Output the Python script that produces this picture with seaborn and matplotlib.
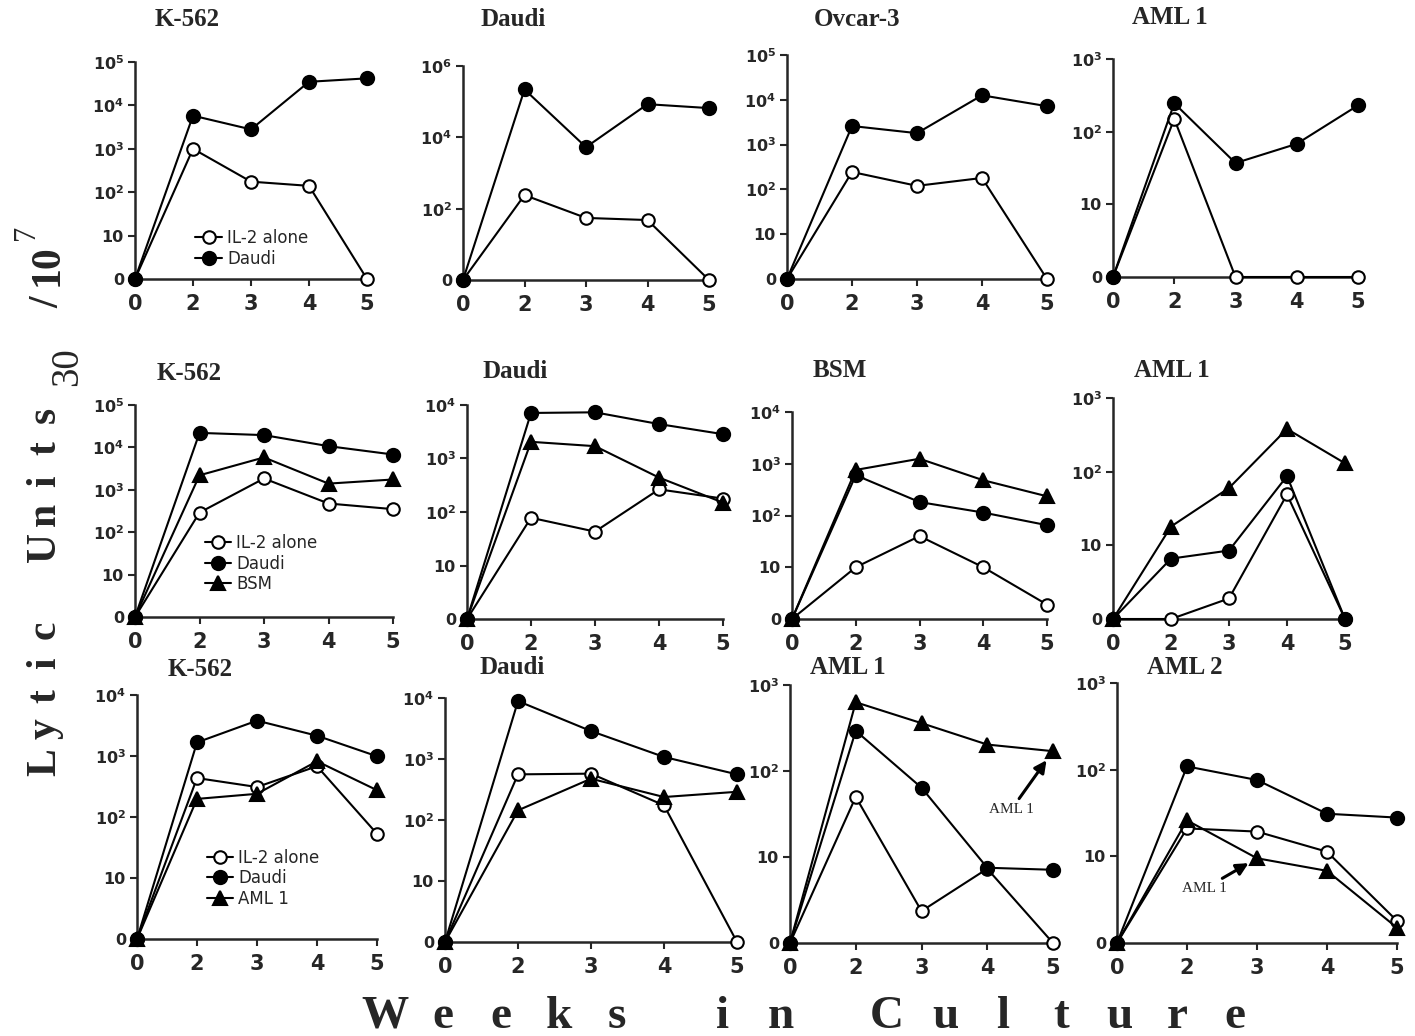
import numpy as np
import matplotlib
matplotlib.use("Agg")
import matplotlib.pyplot as plt
import seaborn as sns
from matplotlib.ticker import NullLocator

sns.set_style("ticks")
plt.rcParams["font.family"] = ["DejaVu Sans"]

W, H = 1415, 1036
weeks = [0, 2, 3, 4, 5]

# lytic units (LU30 / 10^7), 0 = below detection
row1_titles = ["K-562", "Daudi", "Ovcar-3", "AML 1"]
row1_il2 = [[0, 1000, 175, 140, 0],
            [0, 240, 55, 48, 0],
            [0, 245, 120, 180, 0],
            [0, 150, 0, 0, 0]]
row1_daudi = [[0, 5800, 2800, 35000, 42000],
              [0, 220000, 5300, 85000, 66000],
              [0, 2600, 1800, 12600, 7200],
              [0, 246, 37, 68, 230]]

row2_titles = ["K-562", "Daudi", "BSM", "AML 1"]
row2_il2 = [[0, 290, 1850, 475, 350],
            [0, 78, 43, 265, 178],
            [0, 10, 40, 10, 1.9],
            [0, 0, 1.9, 49, 0]]
row2_daudi = [[0, 22000, 19500, 10700, 6800],
              [0, 7100, 7300, 4400, 2850],
              [0, 600, 182, 114, 65],
              [0, 6.6, 8.5, 87, 0]]
row2_bsm = [[0, 2200, 5800, 1400, 1750],
            [0, 2050, 1700, 440, 150],
            [0, 760, 1250, 480, 235],
            [0, 18, 60, 380, 130]]

row3_titles = ["K-562", "Daudi", "AML 1", "AML 2"]
row3_il2 = [[0, 435, 310, 680, 53],
            [0, 560, 575, 174, 0],
            [0, 50, 2.35, 7.3, 0],
            [0, 21, 19.3, 11.3, 1.8]]
row3_daudi = [[0, 1670, 3800, 2150, 990],
              [0, 8900, 2870, 1080, 560],
              [0, 293, 64, 7.5, 7.1],
              [0, 109, 76, 31, 28]]
row3_aml1 = [[0, 198, 240, 820, 275],
             [0, 144, 475, 238, 290],
             [0, 630, 360, 203, 170],
             [0, 26, 9.5, 6.8, 1.5]]

# top decade of each y axis and labelled decade step
y_top = [[5, 6, 5, 3], [5, 4, 4, 3], [4, 4, 3, 3]]
y_step = [[1, 2, 1, 1], [1, 1, 1, 1], [1, 1, 1, 1]]

# layout, pixels: axes (left, top, right, bottom), title centre
axes_px = [[(135, 62, 367, 279), (463, 66, 709, 280), (787, 55, 1047, 279), (1113, 59, 1358, 277)],
           [(135, 405, 393, 617), (467, 405, 723, 619), (792, 412, 1047, 619), (1113, 398, 1345, 619)],
           [(137, 695, 377, 939), (445, 698, 737, 942), (790, 685, 1053, 943), (1117, 683, 1397, 943)]]
title_px = [[(187, 20), (513, 20), (857, 20), (1170, 17)],
            [(189, 373), (515, 372), (840, 370), (1172, 370)],
            [(200, 670), (512, 667), (848, 667), (1185, 667)]]
legend_anchor = [(0.26, 0.23), (0.27, 0.39), (0.29, 0.37)]

serif = ["Liberation Serif", "DejaVu Serif"]


def fx(x):
    return x / W


def fy(y):
    return 1 - y / H


def tick_label(e):
    if e == 0:
        return "0"
    if e == 1:
        return "10"
    return r"$\mathbf{10^{%d}}$" % e


def draw_series(ax, vals, kind, label=None):
    pos = np.arange(len(weeks))
    y = np.maximum(np.array(vals, dtype=float), 1)
    style = {"open": dict(marker="o", markerfacecolor="white", markersize=9),
             "filled": dict(marker="o", markerfacecolor="black", markersize=9.5),
             "tri": dict(marker="^", markerfacecolor="black", markersize=10)}[kind]
    sns.lineplot(x=pos, y=y, ax=ax, color="black", lw=1.5, markeredgecolor="black",
                 markeredgewidth=1.5, clip_on=False, zorder=3, label=label, **style)


fig = plt.figure(figsize=(W / 100, H / 100), dpi=100)

rows = [
    (row1_titles, [(row1_il2, "open", "IL-2 alone"), (row1_daudi, "filled", "Daudi")]),
    (row2_titles, [(row2_il2, "open", "IL-2 alone"), (row2_daudi, "filled", "Daudi"),
                   (row2_bsm, "tri", "BSM")]),
    (row3_titles, [(row3_il2, "open", "IL-2 alone"), (row3_daudi, "filled", "Daudi"),
                   (row3_aml1, "tri", "AML 1")]),
]

axes = {}
for r, (titles, series) in enumerate(rows):
    for c in range(4):
        l, t, rr, b = axes_px[r][c]
        ax = fig.add_axes([fx(l), fy(b), (rr - l) / W, (b - t) / H])
        axes[(r, c)] = ax
        for data, kind, lab in series:
            draw_series(ax, data[c], kind, lab if c == 0 else None)
        ax.set_yscale("log")
        ax.set_ylim(1, 10 ** y_top[r][c])
        ax.set_xlim(0, len(weeks) - 1)
        exps = list(range(0, y_top[r][c] + 1, y_step[r][c]))
        ax.set_yticks([10.0 ** e for e in exps])
        ax.set_yticklabels([tick_label(e) for e in exps])
        ax.yaxis.set_minor_locator(NullLocator())
        ax.set_xticks(np.arange(len(weeks)))
        ax.set_xticklabels([str(w) for w in weeks])
        ax.tick_params(axis="x", labelsize=15, length=5, width=1.5, pad=6)
        ax.tick_params(axis="y", labelsize=11.5, length=5, width=1.5, pad=3)
        for lbl in ax.get_xticklabels() + ax.get_yticklabels():
            lbl.set_fontweight("bold")
        for s in ("left", "bottom"):
            ax.spines[s].set_linewidth(1.8)
        sns.despine(ax=ax)
        ax.set_facecolor("white")
        leg = ax.get_legend()
        if leg is not None:
            leg.remove()
        if c == 0:
            ax.legend(loc="upper left", bbox_to_anchor=legend_anchor[r], frameon=False,
                      fontsize=12, handlelength=1.6, handletextpad=0.3, labelspacing=0.15,
                      borderpad=0, borderaxespad=0)
        tx, ty = title_px[r][c]
        fig.text(fx(tx), fy(ty), titles[c], ha="center", va="center", fontsize=18,
                 fontweight="bold", family=serif)

# arrows marking the AML 1 stimulated curve
axes[(2, 2)].annotate("AML 1", xy=(4, row3_aml1[2][4]), xytext=(-30, -42),
                      textcoords="offset points", ha="center", va="center", fontsize=11,
                      family=serif,
                      arrowprops=dict(arrowstyle="-|>", color="black", lw=2.2,
                                      mutation_scale=18, shrinkA=1, shrinkB=8))
axes[(2, 3)].annotate("AML 1", xy=(2, row3_aml1[3][2]), xytext=(-38, -22),
                      textcoords="offset points", ha="center", va="center", fontsize=11,
                      family=serif,
                      arrowprops=dict(arrowstyle="-|>", color="black", lw=2.2,
                                      mutation_scale=18, shrinkA=1, shrinkB=7))

# spaced axis titles
x0 = 385
for ch in "Weeks in Culture":
    if ch == " ":
        x0 += 48
        continue
    fig.text(fx(x0), fy(1028), ch, ha="center", va="baseline", fontsize=34,
             fontweight="bold", family=serif)
    x0 += 58

y0 = 762
for ch in "Lytic Units":
    if ch == " ":
        y0 -= 50
        continue
    fig.text(fx(55), fy(y0), ch, ha="center", va="baseline", rotation=90,
             rotation_mode="anchor", fontsize=30, fontweight="bold", family=serif)
    y0 -= 33
fig.text(fx(77), fy(367), "30", ha="center", va="baseline", rotation=90,
         rotation_mode="anchor", fontsize=28, family=serif)
fig.text(fx(58), fy(302), "/", ha="center", va="baseline", rotation=90,
         rotation_mode="anchor", fontsize=30, fontweight="bold", family=serif)
fig.text(fx(58), fy(265), "10", ha="center", va="baseline", rotation=90,
         rotation_mode="anchor", fontsize=30, fontweight="bold", family=serif)
fig.text(fx(34), fy(232), "7", ha="center", va="baseline", rotation=90,
         rotation_mode="anchor", fontsize=22, family=serif)

fig.savefig("out.png", dpi=100, facecolor="white")
